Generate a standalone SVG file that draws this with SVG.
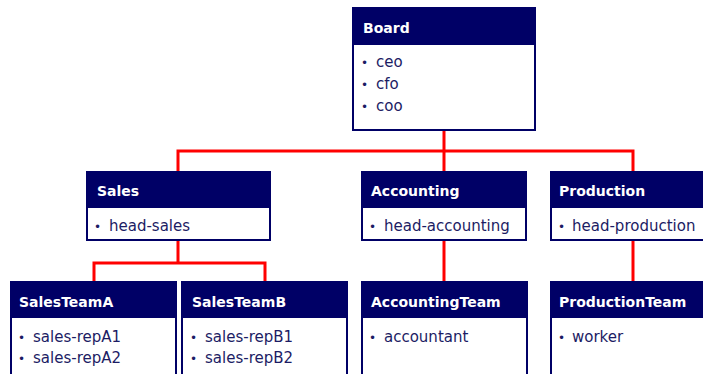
<svg xmlns="http://www.w3.org/2000/svg" width="703" height="374" viewBox="0 0 703 374">
<style>
.box{fill:#ffffff;stroke:#000066;stroke-width:2}
.hdr{fill:#000066}
.ht{font-family:"DejaVu Sans",sans-serif;font-weight:bold;font-size:14px;fill:#ffffff}
.it{font-family:"DejaVu Sans",sans-serif;font-size:15px;fill:#1c1c64}
.bl{font-family:"DejaVu Sans",sans-serif;font-size:12px;fill:#1c1c64}
.cn{fill:none;stroke:#ff0000;stroke-width:3}
</style>
<rect width="703" height="374" fill="#ffffff"/>
<g id="connectors">
<path class="cn" d="M444 130V151M178 172V151H633V172M444 151V172"/>
<path class="cn" d="M178 240V263M94 282V263H265V282"/>
<path class="cn" d="M444 240V282"/>
<path class="cn" d="M633 240V282"/>
</g>
<g id="board">
<rect class="box" x="353" y="8" width="182" height="122"/>
<rect class="hdr" x="353" y="8" width="182" height="37"/>
<text class="ht" x="363" y="33">Board</text>
<text class="bl" x="361" y="67">•</text><text class="it" x="376" y="67">ceo</text>
<text class="bl" x="361" y="89">•</text><text class="it" x="376" y="89">cfo</text>
<text class="bl" x="361" y="111">•</text><text class="it" x="376" y="111">coo</text>
</g>
<g id="sales">
<rect class="box" x="87" y="172" width="183" height="68"/>
<rect class="hdr" x="87" y="172" width="183" height="36"/>
<text class="ht" x="97" y="196">Sales</text>
<text class="bl" x="94" y="231">•</text><text class="it" x="109" y="231">head-sales</text>
</g>
<g id="accounting">
<rect class="box" x="362" y="172" width="164" height="68"/>
<rect class="hdr" x="362" y="172" width="164" height="36"/>
<text class="ht" x="371" y="196">Accounting</text>
<text class="bl" x="369" y="231">•</text><text class="it" x="384" y="231">head-accounting</text>
</g>
<g id="production">
<rect class="box" x="551" y="172" width="164" height="68"/>
<rect class="hdr" x="551" y="172" width="164" height="36"/>
<text class="ht" x="559" y="196">Production</text>
<text class="bl" x="558" y="231">•</text><text class="it" x="572" y="231">head-production</text>
</g>
<g id="salesteama">
<rect class="box" x="11" y="282" width="165" height="100"/>
<rect class="hdr" x="11" y="282" width="165" height="36"/>
<text class="ht" x="19" y="307">SalesTeamA</text>
<text class="bl" x="18" y="342">•</text><text class="it" x="33" y="342">sales-repA1</text>
<text class="bl" x="18" y="363">•</text><text class="it" x="33" y="363">sales-repA2</text>
</g>
<g id="salesteamb">
<rect class="box" x="182" y="282" width="165" height="100"/>
<rect class="hdr" x="182" y="282" width="165" height="36"/>
<text class="ht" x="192" y="307">SalesTeamB</text>
<text class="bl" x="190" y="342">•</text><text class="it" x="205" y="342">sales-repB1</text>
<text class="bl" x="190" y="363">•</text><text class="it" x="205" y="363">sales-repB2</text>
</g>
<g id="accountingteam">
<rect class="box" x="362" y="282" width="165" height="100"/>
<rect class="hdr" x="362" y="282" width="165" height="36"/>
<text class="ht" x="371" y="307">AccountingTeam</text>
<text class="bl" x="369" y="342">•</text><text class="it" x="384" y="342">accountant</text>
</g>
<g id="productionteam">
<rect class="box" x="551" y="282" width="165" height="100"/>
<rect class="hdr" x="551" y="282" width="165" height="36"/>
<text class="ht" x="559" y="307">ProductionTeam</text>
<text class="bl" x="558" y="342">•</text><text class="it" x="572" y="342">worker</text>
</g>
</svg>
